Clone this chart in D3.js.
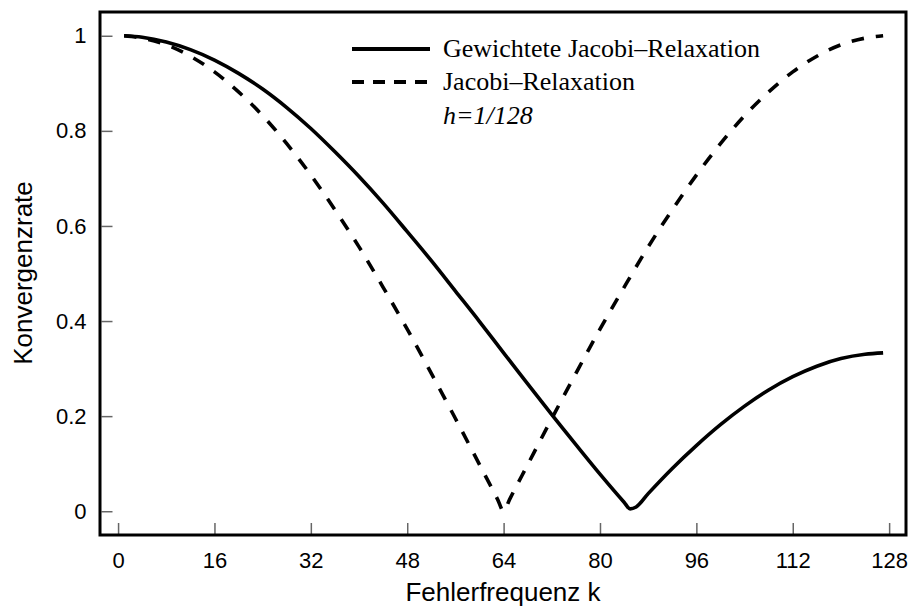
<!DOCTYPE html>
<html>
<head>
<meta charset="utf-8">
<script src="https://cdn.jsdelivr.net/npm/d3@7"></script>
<style>
  body { margin: 0; background: #fff; }
  svg { display: block; }
  .tick text { font-family: "Liberation Sans", Arial, sans-serif; font-size: 22px; fill: #000; }
  .tick line { stroke: #666; stroke-width: 1.5; }
  .axis-title { font-family: "Liberation Sans", Arial, sans-serif; font-size: 26px; fill: #000; }
  .legend text { font-family: "Liberation Serif", "Times New Roman", serif; font-size: 26px; fill: #000; }
</style>
</head>
<body>
<div id="chart"></div>
<script>
// Konvergenzrate der Jacobi-Relaxation, h = 1/128

// gewichtete Jacobi-Relaxation (durchgezogen)
const kWeighted = [1, 4, 8, 12, 16, 20, 24, 28, 32, 36, 40, 44, 48, 52, 56, 60, 64, 68, 72, 76, 80, 84, 85, 86, 88, 92, 96, 100, 104, 108, 112, 116, 120, 124, 127];
const rateWeighted = [1.000, 0.997, 0.987, 0.971, 0.949, 0.921, 0.888, 0.849, 0.805, 0.756, 0.704, 0.648, 0.588, 0.527, 0.463, 0.399, 0.333, 0.268, 0.203, 0.140, 0.078, 0.019, 0.005, 0.009, 0.037, 0.090, 0.138, 0.182, 0.221, 0.255, 0.283, 0.305, 0.321, 0.330, 0.333];

// Jacobi-Relaxation (gestrichelt)
const kJacobi = [1, 4, 8, 12, 16, 20, 24, 28, 32, 36, 40, 44, 48, 52, 56, 60, 63, 64, 65, 68, 72, 76, 80, 84, 88, 92, 96, 100, 104, 108, 112, 116, 120, 124, 127];
const rateJacobi = [1.000, 0.995, 0.981, 0.957, 0.924, 0.882, 0.832, 0.773, 0.707, 0.634, 0.556, 0.471, 0.383, 0.290, 0.195, 0.098, 0.025, 0.000, 0.025, 0.098, 0.195, 0.290, 0.383, 0.471, 0.556, 0.634, 0.707, 0.773, 0.832, 0.882, 0.924, 0.957, 0.981, 0.995, 1.000];

const xTicks = [0, 16, 32, 48, 64, 80, 96, 112, 128];
const yTicks = [0, 0.2, 0.4, 0.6, 0.8, 1];

const legendItems = [
    { label: 'Gewichtete Jacobi\u2013Relaxation', dash: null },
    { label: 'Jacobi\u2013Relaxation', dash: '12,9' }
];

const W = 908, H = 607;
const box = { left: 100, top: 12, right: 906, bottom: 535 };

const svg = d3.select('#chart').append('svg')
    .attr('width', W)
    .attr('height', H);

const x = d3.scaleLinear().domain([-3, 130.8]).range([box.left, box.right]);
const y = d3.scaleLinear().domain([-0.05, 1.05]).range([box.bottom, box.top]);

// Achsen (Ticks nach innen)
svg.append('g')
    .attr('transform', `translate(0,${box.bottom - 1})`)
    .call(d3.axisBottom(x).tickValues(xTicks).tickSizeInner(-11).tickSizeOuter(0).tickPadding(18))
    .call(g => g.select('.domain').remove());

svg.append('g')
    .attr('transform', `translate(${box.left + 1.5},0)`)
    .call(d3.axisLeft(y).tickValues(yTicks).tickFormat(d => String(d)).tickSizeInner(-11).tickSizeOuter(0).tickPadding(15))
    .call(g => g.select('.domain').remove());

// Rahmen
svg.append('rect')
    .attr('x', box.left)
    .attr('y', box.top)
    .attr('width', box.right - box.left)
    .attr('height', box.bottom - box.top)
    .attr('fill', 'none')
    .attr('stroke', '#000')
    .attr('stroke-width', 3);

// Kurven
const line = d3.line()
    .x(d => x(d[0]))
    .y(d => y(d[1]))
    .curve(d3.curveMonotoneX);

svg.append('path')
    .datum(kJacobi.map((k, i) => [k, rateJacobi[i]]))
    .attr('fill', 'none')
    .attr('stroke', '#000')
    .attr('stroke-width', 3.6)
    .attr('stroke-dasharray', '12.5,12')
    .attr('d', line);

svg.append('path')
    .datum(kWeighted.map((k, i) => [k, rateWeighted[i]]))
    .attr('fill', 'none')
    .attr('stroke', '#000')
    .attr('stroke-width', 3.6)
    .attr('d', line);

// Achsenbeschriftung
svg.append('text')
    .attr('class', 'axis-title')
    .attr('x', 503)
    .attr('y', 601)
    .attr('text-anchor', 'middle')
    .text('Fehlerfrequenz k');

svg.append('text')
    .attr('class', 'axis-title')
    .attr('transform', 'rotate(-90)')
    .attr('x', -273)
    .attr('y', 32)
    .attr('text-anchor', 'middle')
    .text('Konvergenzrate');

// Legende
const legend = svg.append('g')
    .attr('class', 'legend')
    .attr('transform', 'translate(352, 49)');

legend.selectAll('g')
    .data(legendItems)
    .join('g')
    .attr('transform', (d, i) => `translate(0, ${i * 33})`)
    .each(function(d) {
        const g = d3.select(this);
        g.append('line')
            .attr('x1', 0).attr('x2', 78)
            .attr('stroke', '#000')
            .attr('stroke-width', 3.8)
            .attr('stroke-dasharray', d.dash);
        g.append('text')
            .attr('x', 91)
            .attr('y', 8)
            .text(d.label);
    });

legend.append('text')
    .attr('x', 91)
    .attr('y', 75)
    .attr('font-style', 'italic')
    .text('h=1/128');
</script>
</body>
</html>
